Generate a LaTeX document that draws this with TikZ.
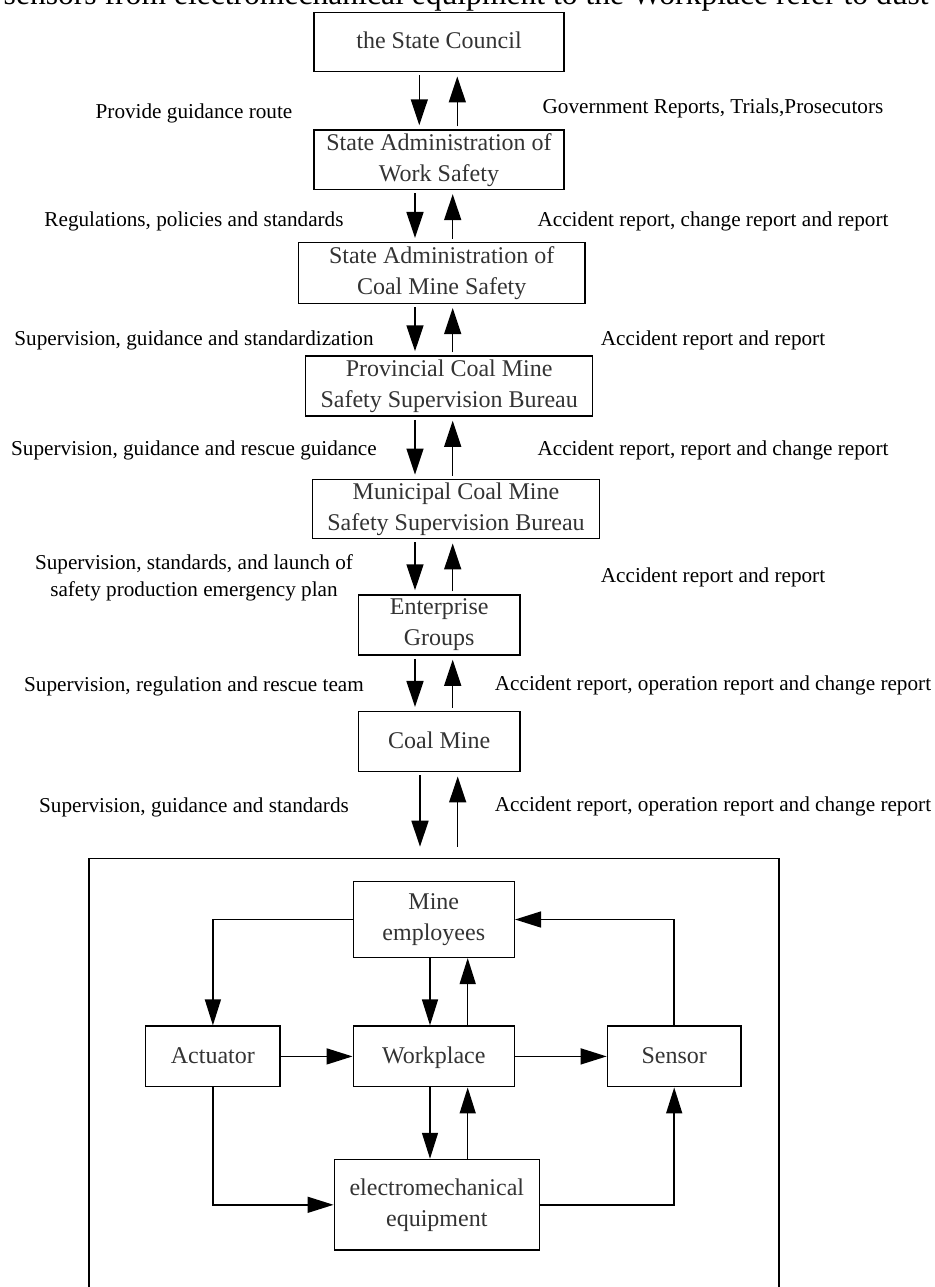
\documentclass[tikz,border=0pt]{standalone}
\usepackage{fontspec}
\setmainfont{Liberation Serif}
\usetikzlibrary{positioning,arrows.meta}

\begin{document}
\begin{tikzpicture}[x=0.5pt, y=-0.5pt, line width=0.75pt,
	agency/.style={draw, align=center, inner sep=0pt, text=black!80, font=\fontsize{12}{15.5}\selectfont},
	oneline/.style={text height=0.66em, text depth=0pt},
	flow/.style={anchor=base, align=center, font=\fontsize{10.6}{13.3}\selectfont},
	link/.style={-{Triangle[length=13pt, width=8.5pt]}, shorten <=1.5pt, shorten >=2pt},
	wire/.style={-{Triangle[length=13pt, width=8pt]}}]

	\useasboundingbox (0,0) rectangle (935,1287);

	\node[anchor=base west, inner sep=0pt, font=\fontsize{15.8}{19}\selectfont] (prose) at (3,4) {sensors from electromechanical equipment to the Workplace refer to dust};

	\node[agency, oneline, minimum width=125pt, minimum height=29.7pt] (sc) at (439,42) {the State Council};
	\node[agency, minimum width=125pt, minimum height=29.7pt] (wsa) at (439,159.7) {State Administration of\\Work Safety};
	\node[agency, minimum width=143.3pt, minimum height=30.3pt] (cms) at (441.7,273) {State Administration of\\Coal Mine Safety};
	\node[agency, minimum width=143.5pt, minimum height=30pt] (pcb) at (449.2,386) {Provincial Coal Mine\\Safety Supervision Bureau};
	\node[agency, minimum width=143.3pt, minimum height=29.7pt] (mcb) at (456,509) {Municipal Coal Mine\\Safety Supervision Bureau};
	\node[agency, minimum width=80.8pt, minimum height=30pt] (eg) at (439.2,625) {Enterprise\\Groups};
	\node[agency, oneline, minimum width=80.8pt, minimum height=30pt] (cm) at (439.2,741.7) {Coal Mine};

	\node[flow] (l1) at (194,118.3) {Provide guidance route};
	\node[flow] (r1) at (713,113.3) {Government Reports, Trials,Prosecutors};
	\node[flow] (l2) at (194,226.7) {Regulations, policies and standards};
	\node[flow] (r2) at (713,226.7) {Accident report, change report and report};
	\node[flow] (l3) at (194,345) {Supervision, guidance and standardization};
	\node[flow] (r3) at (713,345) {Accident report and report};
	\node[flow] (l4) at (194,455) {Supervision, guidance and rescue guidance};
	\node[flow] (r4) at (713,455) {Accident report, report and change report};
	\node[flow, anchor=center] (l5) at (194,578) {Supervision, standards, and launch of\\safety production emergency plan};
	\node[flow] (r5) at (713,582) {Accident report and report};
	\node[flow] (l6) at (194,691) {Supervision, regulation and rescue team};
	\node[flow] (r6) at (713,690) {Accident report, operation report and change report};
	\node[flow] (l7) at (194,812.5) {Supervision, guidance and standards};
	\node[flow] (r7) at (713,811.7) {Accident report, operation report and change report};

	\coordinate (d1) at (419.3,0);
	\coordinate (u1) at (457.3,0);
	\coordinate (d2) at (415,0);
	\coordinate (u2) at (452.7,0);
	\coordinate (d3) at (420,0);
	\coordinate (u3) at (457.7,0);
	\coordinate (gate) at (439,846.7);

	\foreach \a/\b/\d/\u in {sc/wsa/d1/u1, wsa/cms/d2/u2, cms/pcb/d2/u2, pcb/mcb/d2/u2, mcb/eg/d2/u2, eg/cm/d2/u2}{
		\draw[link] (\a.south -| \d) -- (\b.north -| \d);
		\draw[link] (\b.north -| \u) -- (\a.south -| \u);
	}
	\draw[link, shorten >=0pt] (cm.south -| d3) -- (gate -| d3);
	\draw[link, shorten <=0pt] (gate -| u3) -- (cm.south -| u3);

	\draw (89,858.3) rectangle (779,1300);

	\node[agency, minimum width=80.5pt, minimum height=37.8pt] (me) at (433.8,919.5) {Mine\\employees};
	\node[agency, oneline, minimum width=67.2pt, minimum height=30.3pt] (act) at (212.9,1056.4) {Actuator};
	\node[agency, oneline, minimum width=80.5pt, minimum height=30.3pt] (wp) at (433.8,1056.4) {Workplace};
	\node[agency, oneline, minimum width=66.8pt, minimum height=30.3pt] (sen) at (674.2,1056.4) {Sensor};
	\node[agency, minimum width=102.5pt, minimum height=45.3pt] (eme) at (436.8,1204.8) {electromechanical\\equipment};

	\coordinate (d4) at (430,0);
	\coordinate (u4) at (467.7,0);

	\draw[wire] (me.west) -| (act.north);
	\draw[wire] (sen.north) |- (me.east);
	\draw[wire] (me.south -| d4) -- (wp.north -| d4);
	\draw[wire] (wp.north -| u4) -- (me.south -| u4);
	\draw[wire] (act) -- (wp);
	\draw[wire] (wp) -- (sen);
	\draw[wire] (wp.south -| d4) -- (eme.north -| d4);
	\draw[wire] (eme.north -| u4) -- (wp.south -| u4);
	\draw[wire] (act.south) |- (eme.west);
	\draw[wire] (eme.east) -| (sen.south);

\end{tikzpicture}
\end{document}
